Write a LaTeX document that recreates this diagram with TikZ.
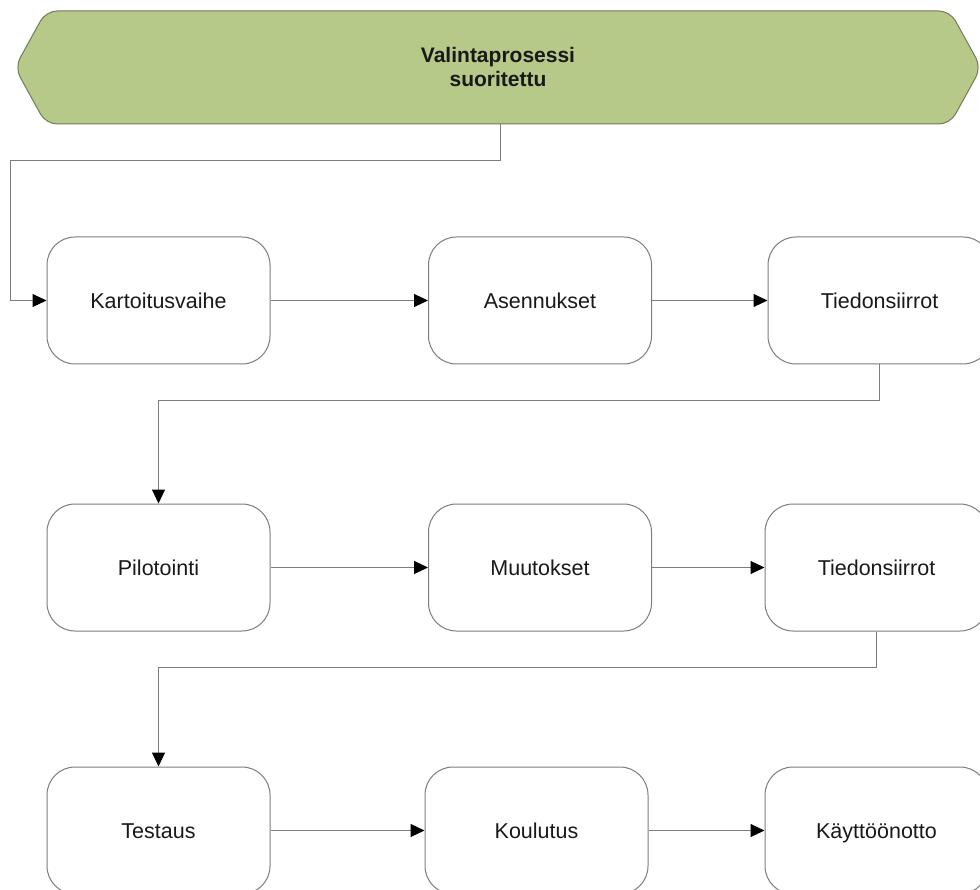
\documentclass[tikz,border=0pt]{standalone}
\usepackage{fontspec}
\setmainfont{Liberation Sans}
\usetikzlibrary{arrows.meta}
\definecolor{eventfill}{RGB}{182,201,136}
\definecolor{eventline}{RGB}{112,124,92}
\definecolor{boxline}{RGB}{125,125,125}
\definecolor{txt}{RGB}{25,25,25}
\tikzset{
  procbox/.style={draw=boxline, line width=1pt, fill=white, rounded corners=28pt,
    minimum width=223pt, minimum height=127pt, inner sep=0pt,
    text height=15.5pt, text depth=0pt,
    font=\fontsize{21.5pt}{25pt}\selectfont, text=txt},
  flow/.style={draw=boxline, line width=1pt,
    -{Triangle[length=14pt,width=13pt,color=black]}},
  eventtext/.style={align=center, inner sep=0pt, text=txt,
    font=\fontsize{21pt}{24pt}\selectfont\bfseries}
}
\begin{document}
\begin{tikzpicture}[x=1pt,y=-1pt]
\useasboundingbox (0,0) rectangle (980,890);
\clip (0,0) rectangle (980,890);

% start event: hexagon with rounded corners
\node[draw=none, minimum width=966pt, minimum height=113pt, inner sep=0pt] (start) at (498,67.5) {};
\filldraw[fill=eventfill, draw=eventline, line width=1pt, rounded corners=11pt]
  (start.west) -- (46,11) -- (950,11) -- (start.east) -- (950,124) -- (46,124) -- cycle;
\node[eventtext] (starttext) at (498,66.5) {Valintaprosessi\\suoritettu};

% process steps
\node[procbox] (k1) at (158.5,300.5) {Kartoitusvaihe};
\node[procbox] (k2) at (540,300.5)   {Asennukset};
\node[procbox] (k3) at (879.5,300.5) {Tiedonsiirrot};

\node[procbox] (p1) at (158.5,567.5) {Pilotointi};
\node[procbox] (p2) at (540,567.5)   {Muutokset};
\node[procbox] (p3) at (876.5,567.5) {Tiedonsiirrot};

\node[procbox] (t1) at (158.5,830.5) {Testaus};
\node[procbox] (t2) at (536.5,830.5) {Koulutus};
\node[procbox] (t3) at (876.5,830.5) {Käyttöönotto};

% connectors
\draw[flow] ([xshift=2pt]start.south) -- ++(0,36) -| ([xshift=-36pt]k1.west) -- (k1.west);
\draw[flow] (k1.east) -- (k2.west);
\draw[flow] (k2.east) -- (k3.west);
\draw[flow] (k3.south) -- ++(0,36) -| (p1.north);
\draw[flow] (p1.east) -- (p2.west);
\draw[flow] (p2.east) -- (p3.west);
\draw[flow] (p3.south) -- ++(0,36) -| (t1.north);
\draw[flow] (t1.east) -- (t2.west);
\draw[flow] (t2.east) -- (t3.west);
\end{tikzpicture}
\end{document}
